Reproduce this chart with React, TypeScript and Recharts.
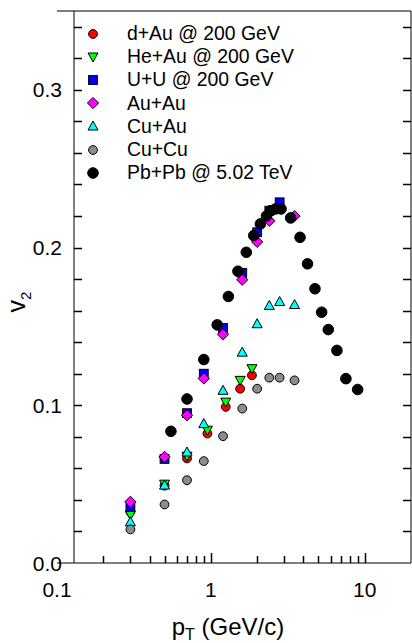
import React from 'react';
import {
  ScatterChart,
  Scatter,
  XAxis,
  YAxis,
  ReferenceLine,
  Legend,
} from 'recharts';

// p_T bins (GeV/c) and v2 values
const dAuPt = [0.3, 0.5, 0.7, 0.95, 1.25, 1.55, 1.85];
const dAuV2 = [0.0325, 0.049, 0.0663, 0.0821, 0.099, 0.1105, 0.119];

const heAuPt = [0.3, 0.5, 0.7, 0.95, 1.25, 1.55, 1.85];
const heAuV2 = [0.0304, 0.05, 0.0677, 0.0842, 0.102, 0.1158, 0.1232];

const uuPt = [0.3, 0.5, 0.7, 0.9, 1.2, 1.6, 2.0, 2.4, 2.8];
const uuV2 = [0.0356, 0.066, 0.095, 0.12, 0.149, 0.184, 0.2097, 0.2234, 0.2287];

const auAuPt = [0.3, 0.5, 0.7, 0.9, 1.2, 1.6, 2.0, 2.4, 3.5];
const auAuV2 = [0.0388, 0.0673, 0.0937, 0.117, 0.145, 0.1796, 0.2036, 0.217, 0.22];

const cuAuPt = [0.3, 0.5, 0.7, 0.9, 1.2, 1.6, 2.0, 2.4, 2.8, 3.5];
const cuAuV2 = [0.0261, 0.0494, 0.0704, 0.0884, 0.1095, 0.1337, 0.1517, 0.1633, 0.1658, 0.1639];

const cuCuPt = [0.3, 0.5, 0.7, 0.9, 1.2, 1.6, 2.0, 2.4, 2.8, 3.5];
const cuCuV2 = [0.0213, 0.0371, 0.0525, 0.0646, 0.0804, 0.0979, 0.1105, 0.1175, 0.1175, 0.1158];

const pbPbPt = [0.55, 0.7, 0.9, 1.1, 1.3, 1.5, 1.7, 1.9, 2.1, 2.3, 2.45, 2.63, 2.86, 3.3, 3.8, 4.25, 4.75, 5.25, 5.8, 6.6, 7.55, 9.0];
const pbPbV2 = [0.0835, 0.104, 0.129, 0.151, 0.169, 0.185, 0.197, 0.2076, 0.215, 0.22, 0.2234, 0.2245, 0.2245, 0.2188, 0.2065, 0.1897, 0.1739, 0.159, 0.148, 0.1348, 0.1169, 0.11];

// axis ticks
const xTicks = [0.1, 0.2, 0.3, 0.4, 0.5, 0.6, 0.7, 0.8, 0.9, 1, 2, 3, 4, 5, 6, 7, 8, 9, 10];
const xLabels = [0.1, 1, 10];
const yTicks = [0, 0.02, 0.04, 0.06, 0.08, 0.1, 0.12, 0.14, 0.16, 0.18, 0.2, 0.22, 0.24, 0.26, 0.28, 0.3, 0.32, 0.34];
const yLabels = [0, 0.1, 0.2, 0.3];

const W = 412;
const H = 643;
const X_MIN = 0.1;
const X_MAX = 20;
const Y_MAX = 0.35;
const Y_AXIS_AT = 0.129; // the left frame line sits a bit right of pT = 0.1
const TICK = 8;

const FONT = '"Liberation Sans", Arial, sans-serif';

const toPoints = (xs: number[], ys: number[]) => xs.map((x, i) => ({ x, y: ys[i] }));

// inward tick marks, placed through the chart scales like any other point
const xTickPts = xTicks.filter((v) => v !== X_MIN).map((v) => ({ x: v, y: 0, major: xLabels.includes(v) }));
const yTickLeftPts = yTicks.filter((v) => v > 0).map((v) => ({ x: Y_AXIS_AT, y: v }));
const yTickRightPts = yTicks.filter((v) => v > 0).map((v) => ({ x: X_MAX, y: v }));

// snap to the pixel grid so the tick lines stay sharp
const snap = (v: number) => Math.round(v) + 0.5;

type Marker = 'circle' | 'bigCircle' | 'square' | 'diamond' | 'up' | 'down';

const drawMarker = (kind: Marker, cx: number, cy: number, fill: string) => {
  const s = { fill, stroke: '#000', strokeWidth: 1 };
  switch (kind) {
    case 'bigCircle':
      return <circle cx={cx} cy={cy} r={5.3} {...s} />;
    case 'circle':
      return <circle cx={cx} cy={cy} r={4.4} {...s} />;
    case 'square':
      return <rect x={cx - 4.4} y={cy - 4.4} width={8.8} height={8.8} {...s} />;
    case 'diamond':
      return <polygon points={`${cx},${cy - 5.6} ${cx + 5.6},${cy} ${cx},${cy + 5.6} ${cx - 5.6},${cy}`} {...s} />;
    case 'up':
      return <polygon points={`${cx},${cy - 5} ${cx + 5},${cy + 4} ${cx - 5},${cy + 4}`} {...s} />;
    case 'down':
      return <polygon points={`${cx},${cy + 5} ${cx + 5},${cy - 4} ${cx - 5},${cy - 4}`} {...s} />;
    default:
      return null;
  }
};

const SERIES = [
  { name: 'd+Au @ 200 GeV', data: toPoints(dAuPt, dAuV2), color: '#ff0000', marker: 'circle' as Marker },
  { name: 'He+Au @ 200 GeV', data: toPoints(heAuPt, heAuV2), color: '#00ff00', marker: 'down' as Marker },
  { name: 'U+U @ 200 GeV', data: toPoints(uuPt, uuV2), color: '#0000ff', marker: 'square' as Marker },
  { name: 'Au+Au', data: toPoints(auAuPt, auAuV2), color: '#ff00ff', marker: 'diamond' as Marker },
  { name: 'Cu+Au', data: toPoints(cuAuPt, cuAuV2), color: '#00ffff', marker: 'up' as Marker },
  { name: 'Cu+Cu', data: toPoints(cuCuPt, cuCuV2), color: '#8c8c8c', marker: 'circle' as Marker },
  { name: 'Pb+Pb @ 5.02 TeV', data: toPoints(pbPbPt, pbPbV2), color: '#000000', marker: 'bigCircle' as Marker },
];

const LeftTick = (props: any) => {
  const v = props.payload.value;
  if (!yLabels.some((l) => Math.abs(l - v) < 1e-9)) return <g />;
  return (
    <text x={Number(props.x) + 5} y={props.y} dy="0.36em" textAnchor="end" fontSize={21} fill="#000" fontFamily={FONT}>
      {v.toFixed(1)}
    </text>
  );
};

const BottomTick = (props: any) => {
  const v = props.payload.value;
  if (!xLabels.includes(v)) return <g />;
  return (
    <text x={props.x} y={Number(props.y) + 34} textAnchor="middle" fontSize={21} fill="#000" fontFamily={FONT}>
      {String(v)}
    </text>
  );
};

const XTitle = ({ viewBox }: any) => (
  <text x={viewBox.x + viewBox.width / 2 - 6} y={viewBox.y + 72} textAnchor="middle" fontSize={24} fill="#000" fontFamily={FONT}>
    p
    <tspan fontSize={16} dy={5}>T</tspan>
    <tspan dy={-5}> (GeV/c)</tspan>
  </text>
);

const YTitle = ({ viewBox }: any) => {
  const cx = 25;
  const cy = viewBox.y + viewBox.height / 2 + 15;
  return (
    <text x={cx} y={cy} transform={`rotate(-90, ${cx}, ${cy})`} textAnchor="middle" fontSize={25} fill="#000" fontFamily={FONT}>
      v<tspan fontSize={15} dy={6}>2</tspan>
    </text>
  );
};

const LegendBox = () => (
  <div style={{ fontFamily: FONT, fontSize: 19.4, color: '#000' }}>
    {SERIES.map((s) => (
      <div key={s.name} style={{ display: 'flex', alignItems: 'center', height: 23.2, whiteSpace: 'nowrap' }}>
        <svg width={14} height={14} style={{ flex: 'none' }}>
          {drawMarker(s.marker, 7, 7, s.color)}
        </svg>
        <span style={{ marginLeft: 27 }}>{s.name}</span>
      </div>
    ))}
  </div>
);

export default function App() {
  return (
    <div style={{ position: 'absolute', left: 0, top: 0, width: W, height: H, background: '#fff', fontFamily: FONT }}>
      <ScatterChart width={W} height={H} margin={{ top: 11, right: 0, bottom: 0, left: 0 }}>
        <XAxis
          dataKey="x"
          type="number"
          scale="log"
          domain={[X_MIN, X_MAX]}
          allowDataOverflow
          ticks={xTicks}
          interval={0}
          height={80}
          tickSize={0}
          tickMargin={0}
          tickLine={false}
          tick={BottomTick}
          axisLine={{ stroke: '#000' }}
          label={<XTitle />}
        />
        <YAxis
          yAxisId="l"
          dataKey="y"
          type="number"
          domain={[0, Y_MAX]}
          allowDataOverflow
          ticks={yTicks}
          interval={0}
          width={57}
          tickSize={0}
          tickMargin={0}
          tickLine={false}
          axisLine={false}
          tick={LeftTick}
          label={<YTitle />}
        />
        <YAxis
          yAxisId="r"
          orientation="right"
          type="number"
          domain={[0, Y_MAX]}
          width={1}
          tick={false}
          tickLine={false}
          axisLine={{ stroke: '#000' }}
        />
        <ReferenceLine yAxisId="l" y={Y_MAX} stroke="#000" />
        <ReferenceLine yAxisId="l" x={Y_AXIS_AT} stroke="#000" />
        <Scatter
          yAxisId="l"
          data={xTickPts}
          legendType="none"
          isAnimationActive={false}
          shape={(p: any) => (
            <line
              x1={snap(p.cx)}
              x2={snap(p.cx)}
              y1={p.cy}
              y2={p.cy - (p.payload.major ? 10 : 7)}
              stroke="#000"
              strokeWidth={1.5}
            />
          )}
        />
        <Scatter
          yAxisId="l"
          data={yTickLeftPts}
          legendType="none"
          isAnimationActive={false}
          shape={(p: any) => (
            <line x1={p.cx} x2={p.cx + TICK} y1={snap(p.cy)} y2={snap(p.cy)} stroke="#000" strokeWidth={1.5} />
          )}
        />
        <Scatter
          yAxisId="l"
          data={yTickRightPts}
          legendType="none"
          isAnimationActive={false}
          shape={(p: any) => (
            <line x1={p.cx} x2={p.cx - TICK} y1={snap(p.cy)} y2={snap(p.cy)} stroke="#000" strokeWidth={1.5} />
          )}
        />
        {SERIES.map((s) => (
          <Scatter
            key={s.name}
            name={s.name}
            yAxisId="l"
            data={s.data}
            isAnimationActive={false}
            shape={(p: any) => drawMarker(s.marker, p.cx, p.cy, s.color)}
          />
        ))}
        <Legend
          layout="vertical"
          align="center"
          verticalAlign="middle"
          content={<LegendBox />}
          wrapperStyle={{ left: 86, top: 22, width: 260, height: 170 }}
        />
      </ScatterChart>
    </div>
  );
}
